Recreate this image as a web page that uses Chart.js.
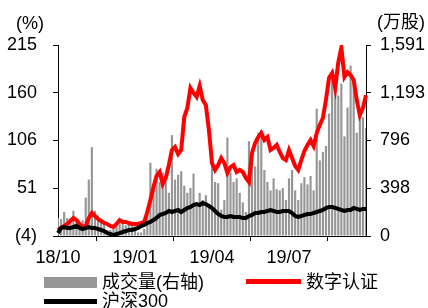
<!DOCTYPE html>
<html>
<head>
<meta charset="utf-8">
<script src="https://cdn.jsdelivr.net/npm/chart.js@4.4.0/dist/chart.umd.min.js"></script>
<style>
  body { margin: 0; background: #fff; }
  #wrap { position: relative; width: 428px; height: 308px; }
  .txt { position: absolute; font: 18px "Liberation Sans", "Noto Sans CJK SC", sans-serif; color: #000; line-height: 20px; white-space: nowrap; }
  .sw { position: absolute; }
</style>
</head>
<body>
<div id="wrap">
  <canvas id="myChart" width="428" height="308"></canvas>
  <div class="txt" style="left:16px;top:13px">(%)</div>
  <div class="txt" style="left:377px;top:12px">(万股)</div>
  <div class="sw" style="left:44px;top:277px;width:53px;height:11px;background:#969696"></div>
  <div class="txt" style="left:102px;top:272px">成交量(右轴)</div>
  <div class="sw" style="left:246px;top:279px;width:55px;height:5px;background:#ff0000"></div>
  <div class="txt" style="left:306px;top:272px">数字认证</div>
  <div class="sw" style="left:44px;top:299px;width:53px;height:5px;background:#000"></div>
  <div class="txt" style="left:102px;top:291px">沪深300</div>
</div>
<script>
// x tick labels (month marks) and their positions in the series
var xTickLabels = ['18/10', '19/01', '19/04', '19/07'];
var xTickIndex = [0, 25, 50, 75];

var leftTickValues = [-4, 50.75, 105.5, 160.25, 215];
var leftTickLabels = ['(4)', '51', '106', '160', '215'];
var rightTickValues = [0, 397.75, 795.5, 1193.25, 1591];
var rightTickLabels = ['0', '398', '796', '1,193', '1,591'];

// 数字认证, cumulative return (%)
var stockLine = [2.9,5.2,7.5,9.8,13.2,16.6,14.3,9.8,6.3,7.5,
  16.6,22.4,18.9,15.5,13.2,10.9,9.8,7.5,6.3,9.8,
  14.3,12.1,12.1,10.9,9.8,9.8,9.8,10.9,12.1,23.5,
  37.3,52.2,64.8,69.4,55.6,62.5,77.4,94.6,98,90,
  94.6,132.4,142.8,165.7,160,155.4,168,152,146.2,117.5,
  79.7,71.7,77.4,85.4,79.7,68.2,75.1,77.4,69.4,71.7,
  69.4,62.5,57.9,91.2,102.6,109.5,114.1,106.1,109.5,94.6,
  96.9,100.3,92.3,85.4,83.1,94.6,85.4,76.3,71.7,83.1,
  93.5,100.3,106.1,99.2,114.1,123.3,131.3,152,177.2,182.9,
  165.7,195,212,178.3,184,180.6,174.9,152,134.7,142.8,
  157.4];

// 沪深300, cumulative return (%)
var indexLine = [-0.6,5.2,6.3,5.2,5.2,6.3,7.5,5.2,4,5.2,
  6.3,5.2,5.2,4,2.9,1.7,-0.6,-1.7,-2.9,-1.7,
  -0.6,0.6,1.7,2.9,2.9,4,5.2,7.5,8.6,10.9,
  12.1,14.3,16.6,20.1,21.2,22.4,24.7,23.5,24.7,25.8,
  23.5,25.8,28.1,29.3,31.5,32.7,31.5,33.8,32.7,30.4,
  28.1,24.7,21.2,18.9,17.8,17.8,18.9,17.8,17.8,17.8,
  16.6,16.6,18.9,20.1,22.4,22.4,23.5,23.5,24.7,25.8,
  24.7,23.5,23.5,24.7,24.7,24.7,22.4,18.9,17.8,18.9,
  20.1,21.2,21.2,22.4,23.5,24.7,25.8,28.1,29.3,29.3,
  28.1,27,25.8,24.7,25.8,25.8,28.1,27,25.8,27,
  27];

// 成交量 (万股, right axis)
var volume = [150,140,200,150,110,210,120,100,130,320,
  470,740,210,170,120,100,50,50,60,80,
  130,130,90,100,100,80,30,30,60,200,
  610,400,560,450,530,450,360,840,470,510,
  540,420,360,400,520,280,360,300,340,260,
  600,450,440,220,300,820,530,450,480,360,
  280,200,790,700,580,860,880,550,450,380,
  480,390,380,400,300,480,550,380,300,440,
  490,430,500,380,1060,630,700,750,1020,1380,
  1320,1170,1270,830,1070,1420,1270,860,990,990,
  900];

var labels = volume.map(function (v, i) { return i; });

Chart.defaults.font.family = '"Liberation Sans", "Noto Sans CJK SC", sans-serif';
Chart.defaults.font.size = 18;
Chart.defaults.color = '#000';

var ctx = document.getElementById('myChart').getContext('2d');
var myChart = new Chart(ctx, {
  type: 'bar',
  data: {
    labels: labels,
    datasets: [{
      type: 'line',
      label: '沪深300',
      data: indexLine,
      yAxisID: 'y',
      borderColor: '#000000',
      borderWidth: 4,
      pointRadius: 0,
      order: 0
    }, {
      type: 'line',
      label: '数字认证',
      data: stockLine,
      yAxisID: 'y',
      borderColor: '#ff0000',
      borderWidth: 4,
      pointRadius: 0,
      order: 1
    }, {
      label: '成交量(右轴)',
      data: volume,
      yAxisID: 'y1',
      backgroundColor: '#969696',
      barPercentage: 0.7,
      categoryPercentage: 1,
      order: 2
    }]
  },
  options: {
    responsive: false,
    animation: false,
    layout: { padding: { top: 45, left: 0, right: 0, bottom: 0 } },
    plugins: {
      legend: { display: false },
      tooltip: { enabled: false }
    },
    scales: {
      x: {
        offset: false,
        grid: { drawOnChartArea: false, tickLength: 5, tickColor: '#000' },
        border: { color: '#000', width: 1 },
        ticks: {
          autoSkip: false,
          maxRotation: 0,
          padding: 6,
          callback: function (v) {
            var k = xTickIndex.indexOf(v);
            return k >= 0 ? xTickLabels[k] : '';
          }
        },
        afterBuildTicks: function (s) {
          s.ticks = xTickIndex.map(function (v) { return { value: v }; });
        },
        afterFit: function (s) { s.height = 72; }
      },
      y: {
        position: 'left',
        min: -4,
        max: 215,
        grid: { drawOnChartArea: false, tickLength: 5, tickColor: '#000' },
        border: { color: '#000', width: 1 },
        ticks: {
          padding: 16,
          callback: function (v) { return leftTickLabels[leftTickValues.indexOf(v)]; }
        },
        afterBuildTicks: function (s) {
          s.ticks = leftTickValues.map(function (v) { return { value: v }; });
        },
        afterFit: function (s) { s.width = 58; }
      },
      y1: {
        position: 'right',
        min: 0,
        max: 1591,
        grid: { drawOnChartArea: false, tickLength: 5, tickColor: '#000' },
        border: { color: '#000', width: 1 },
        ticks: {
          padding: 9,
          callback: function (v) { return rightTickLabels[rightTickValues.indexOf(v)]; }
        },
        afterBuildTicks: function (s) {
          s.ticks = rightTickValues.map(function (v) { return { value: v }; });
        },
        afterFit: function (s) { s.width = 62; }
      }
    }
  }
});
</script>
</body>
</html>
